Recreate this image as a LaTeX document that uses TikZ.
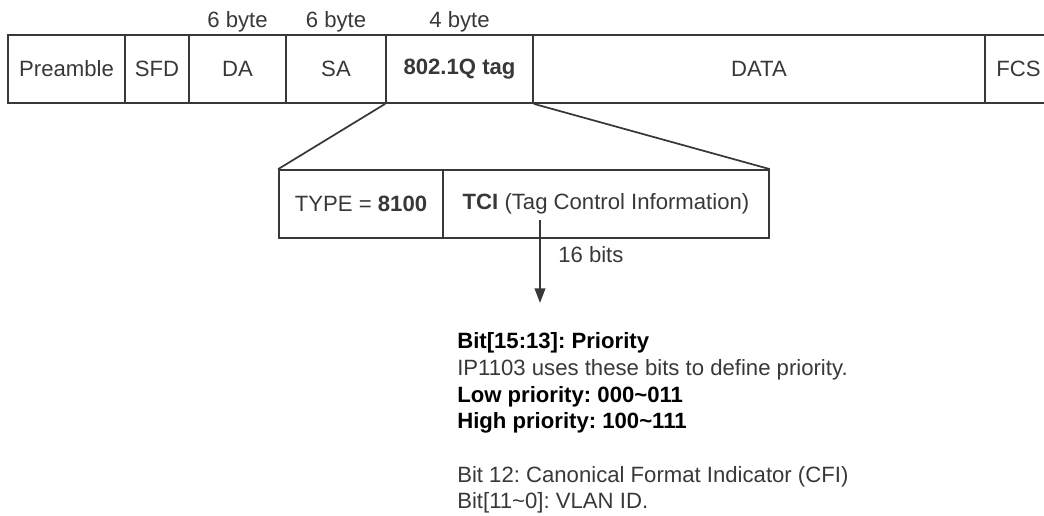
\documentclass[tikz,border=0pt]{standalone}
\usepackage{fontspec}
\setmainfont{Liberation Sans}
\usetikzlibrary{arrows.meta}
\definecolor{ink}{HTML}{383838}
\frenchspacing
\begin{document}
\begin{tikzpicture}[x=0.75pt,y=-0.75pt,
  font=\fontsize{16.6}{19}\selectfont,
  fld/.style={draw=ink,line width=1.3pt,inner sep=0pt,minimum height=51pt,minimum width=#1*0.75pt,text=ink},
  lbl/.style={inner sep=0pt,text=ink},
  txt/.style={inner sep=0pt,anchor=base west,text=ink},
  link/.style={draw=ink,line width=1.3pt}]
\clip (0,0) rectangle (1044,515);
\useasboundingbox (0,0) rectangle (1044,515);
% frame row
\node[fld=117] (pre) at (66.5,69) {Preamble};
\node[fld=64]  (sfd) at (157,69) {SFD};
\node[fld=97]  (da)  at (237.5,69) {DA};
\node[fld=100] (sa)  at (336,69) {SA};
\node[fld=147] (tag) at (459.5,69) {\textbf{802.1Q tag}};
\node[fld=452] (data) at (759,69) {DATA};
\node[fld=67]  (fcs) at (1018.5,69) {FCS};
% byte labels
\node[lbl,anchor=base] (lda) at (237.5,27) {6 byte};
\node[lbl,anchor=base] (lsa) at (336,27) {6 byte};
\node[lbl,anchor=base] (ltag) at (459.5,27) {4 byte};
% tag expansion
\node[fld=164] (type) at (361,204) {TYPE = \textbf{8100}};
\node[fld=326] (tci)  at (606,204) {\textbf{TCI} (Tag Control Information)};
\draw[link] (tag.south west) -- (type.north west);
\draw[link] (tag.south east) -- (tci.north east);
% arrow
\coordinate (astart) at (540,220);
\coordinate (aend) at (540,303);
\draw[link,-{Triangle[width=8pt,length=11pt]}] (astart) -- (aend);
\node[txt] (bits) at (558,262) {16 bits};
% description
\node[txt,text=black] (d1) at (457,348) {\textbf{Bit[15:13]: Priority}};
\node[txt] (d2) at (457,375) {IP1103 uses these bits to define priority.};
\node[txt,text=black] (d3) at (457,402) {\textbf{Low priority: 000\textasciitilde 011}};
\node[txt,text=black] (d4) at (457,428) {\textbf{High priority: 100\textasciitilde 111}};
\node[txt] (d5) at (457,482) {Bit 12: Canonical Format Indicator (CFI)};
\node[txt] (d6) at (457,508) {Bit[11\textasciitilde 0]: VLAN ID.};
\end{tikzpicture}
\end{document}
